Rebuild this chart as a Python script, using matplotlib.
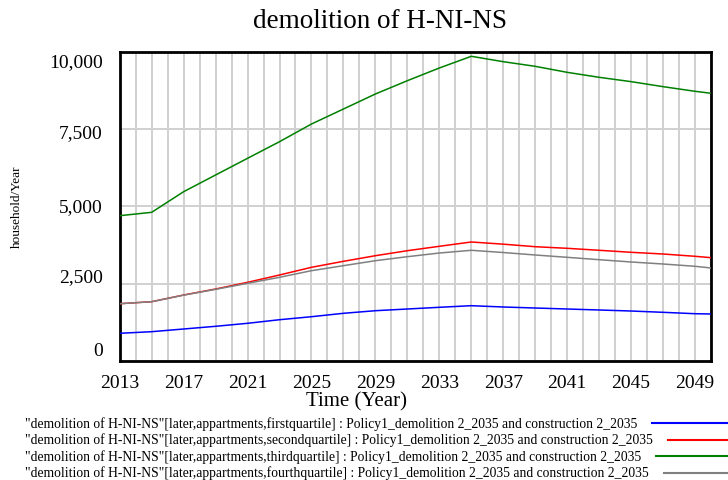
import matplotlib
matplotlib.use("Agg")
import matplotlib.pyplot as plt
from matplotlib.transforms import ScaledTranslation, blended_transform_factory

years = [2013, 2015, 2017, 2019, 2021, 2023, 2025, 2027, 2029, 2031, 2033,
         2035, 2037, 2039, 2041, 2043, 2045, 2047, 2049, 2050]
first = [895, 947, 1034, 1121, 1218, 1334, 1431, 1541, 1625, 1680, 1735,
         1787, 1745, 1712, 1680, 1648, 1615, 1573, 1528, 1519]
second = [1851, 1916, 2132, 2326, 2542, 2779, 3027, 3221, 3402, 3564, 3706,
          3845, 3775, 3693, 3641, 3577, 3512, 3457, 3383, 3338]
third = [4695, 4804, 5470, 6010, 6549, 7086, 7657, 8142, 8627, 9057, 9467,
         9845, 9671, 9521, 9327, 9166, 9026, 8864, 8714, 8650]
fourth = [1851, 1916, 2128, 2315, 2510, 2704, 2918, 3080, 3241, 3370, 3489,
          3577, 3505, 3425, 3350, 3273, 3199, 3134, 3060, 3005]

quartiles = ["firstquartile", "secondquartile", "thirdquartile", "fourthquartile"]
colors = ["#0000ff", "#ff0000", "#008000", "#808080"]
series = [first, second, third, fourth]
yticks = [0, 2500, 5000, 7500, 10000]
ytick_labels = ["0", "2,500", "5,000", "7,500", "10,000"]
xticks = list(range(2013, 2050, 4))

plt.rcParams['font.family'] = ['Liberation Serif', 'DejaVu Serif']

W, H = 728, 481
fig = plt.figure(figsize=(W / 100, H / 100), dpi=100)
ax = fig.add_axes([119.7 / W, 1 - 362 / H, (711 - 119.7) / W, (362 - 52.5) / H])

for y, c in zip(series, colors):
    ax.plot(years, y, color=c, lw=1.1, zorder=3)

ax.set_xlim(2013, 2050)
ax.set_ylim(0, 10000)
ax.set_xticks(range(2013, 2051), minor=True)
ax.set_xticks(xticks)
ax.set_xticklabels([str(t) for t in xticks], fontsize=14)
ax.set_yticks(yticks)
ax.set_yticklabels([])
ax.tick_params(axis='both', which='both', length=0)
ax.tick_params(axis='x', pad=9)
ax.grid(True, which='minor', axis='x', color='#d0d0d0', lw=1.4)
ax.grid(True, which='major', axis='x', color='#d0d0d0', lw=1.4)
ax.grid(True, which='major', axis='y', color='#d0d0d0', lw=1.4)
ax.set_axisbelow(True)
for s in ax.spines.values():
    s.set_linewidth(2)
    s.set_color('black')

# Vensim-style y labels (pulled inside the range)
offsets = [11, 7, 0, -4, -10]  # pixels; positive = up
btrans = blended_transform_factory(ax.transAxes, ax.transData)
for v, lab, off in zip(yticks, ytick_labels, offsets):
    tr = btrans + ScaledTranslation(-17 / 100, off / 100, fig.dpi_scale_trans)
    ax.text(0, v, lab, transform=tr, ha='right', va='center', fontsize=14)

fig.text(17 / W, 1 - 207 / H, "household/Year", rotation=90, ha='center', va='center', fontsize=9.5)
fig.text(357 / W, 1 - 402 / H, "Time (Year)", ha='center', va='center', fontsize=15)
fig.text(380 / W, 1 - 21 / H, "demolition of H-NI-NS", ha='center', va='center', fontsize=19.5)

rows_y = [424, 440.5, 457, 473.5]
fig.canvas.draw()
renderer = fig.canvas.get_renderer()
for q, c, yy in zip(quartiles, colors, rows_y):
    txt = ('"demolition of H-NI-NS"[later,appartments,%s] : '
           'Policy1_demolition 2_2035 and construction 2_2035' % q)
    t = fig.text(25 / W, 1 - yy / H, txt, ha='left', va='center', fontsize=9.8)
    bb = t.get_window_extent(renderer=renderer)
    x0 = bb.x1 + 15
    fig.add_artist(plt.Line2D([x0 / W, 1.0], [1 - yy / H, 1 - yy / H],
                              transform=fig.transFigure, color=c, lw=1.5))

fig.savefig("out.png", dpi=100)
